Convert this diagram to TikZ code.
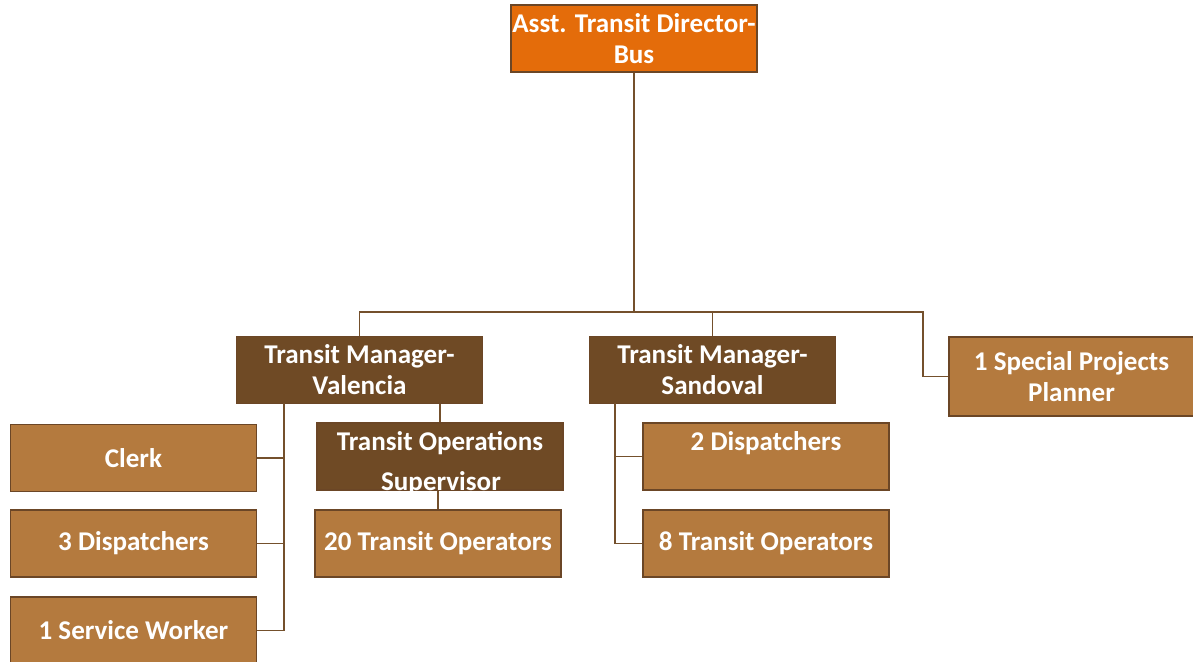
\documentclass[tikz,border=0pt]{standalone}
\usepackage{fontspec}
\setmainfont{Carlito}
\definecolor{orangefill}{HTML}{E46C0A}
\definecolor{darkbrown}{HTML}{6F4A25}
\definecolor{lightbrown}{HTML}{B47A3E}
\definecolor{edgebrown}{HTML}{6B4626}
\definecolor{linebrown}{HTML}{74502C}
\tikzset{
  box/.style={draw=edgebrown, line width=0.8pt, minimum width=0.75pt*246, minimum height=0.75pt*67,
    inner sep=0pt, text=white, align=center,
    font=\fontsize{20.3pt}{23.3pt}\selectfont\bfseries},
  twoline/.style={execute at begin node={\rule{0pt}{20pt}}},
  topbox/.style={box, fill=orangefill},
  mgrbox/.style={box, fill=darkbrown},
  staffbox/.style={box, fill=lightbrown},
  lbl/.style={text=white, inner sep=0pt, font=\fontsize{20.3pt}{23.3pt}\selectfont\bfseries},
  conn/.style={draw=linebrown, line width=1.1pt}
}
\begin{document}
\begin{tikzpicture}[x=0.75pt,y=-0.75pt]
\useasboundingbox (0,0) rectangle (1193,661);
% boxes
\node[topbox, twoline] (dir) at (634,38.5) {Asst. Transit Director-\\Bus};
\node[mgrbox, twoline] (val) at (359.5,370) {Transit Manager-\\Valencia};
\node[mgrbox, twoline] (sand) at (712.5,370) {Transit Manager-\\Sandoval};
\node[staffbox, twoline, minimum width=0.75pt*245, minimum height=0.75pt*79] (plan) at (1071.5,376.5) {1 Special Projects\\Planner};
\node[staffbox] (clerk) at (133.5,458) {Clerk};
\node[staffbox] (disp3) at (133.5,543.5) {3 Dispatchers};
\node[staffbox] (serv) at (133.5,630.5) {1 Service Worker};
\node[mgrbox] (sup) at (440,456.5) {};
\begin{scope}
  \clip (sup.south west) rectangle (sup.north east);
  \node[lbl] (supa) at (440,443) {Transit Operations};
  \node[lbl] (supb) at (441,483) {Supervisor};
\end{scope}
\node[staffbox] (ops20) at (438,543.5) {20 Transit Operators};
\node[staffbox] (disp2) at (766,456.5) {};
\node[lbl] (disp2t) at (766,443) {2 Dispatchers};
\node[staffbox] (ops8) at (766,543.5) {8 Transit Operators};
% connectors
\coordinate (busr) at (923,312);
\coordinate (vt) at (284,403);
\coordinate (st) at (615,403);
\draw[conn] (dir.south) -- (dir.south |- busr);
\draw[conn] (val.north) |- (busr) |- (plan.west);
\draw[conn] (sand.north) -- (sand.north |- busr);
\draw[conn] (vt) |- (clerk.east);
\draw[conn] (vt) |- (disp3.east);
\draw[conn] (vt) |- (serv.east);
\draw[conn] (val.south -| sup.north) -- (sup.north);
\draw[conn] (sup.south -| ops20.north) -- (ops20.north);
\draw[conn] (st) |- (disp2.west);
\draw[conn] (st) |- (ops8.west);
\end{tikzpicture}
\end{document}
